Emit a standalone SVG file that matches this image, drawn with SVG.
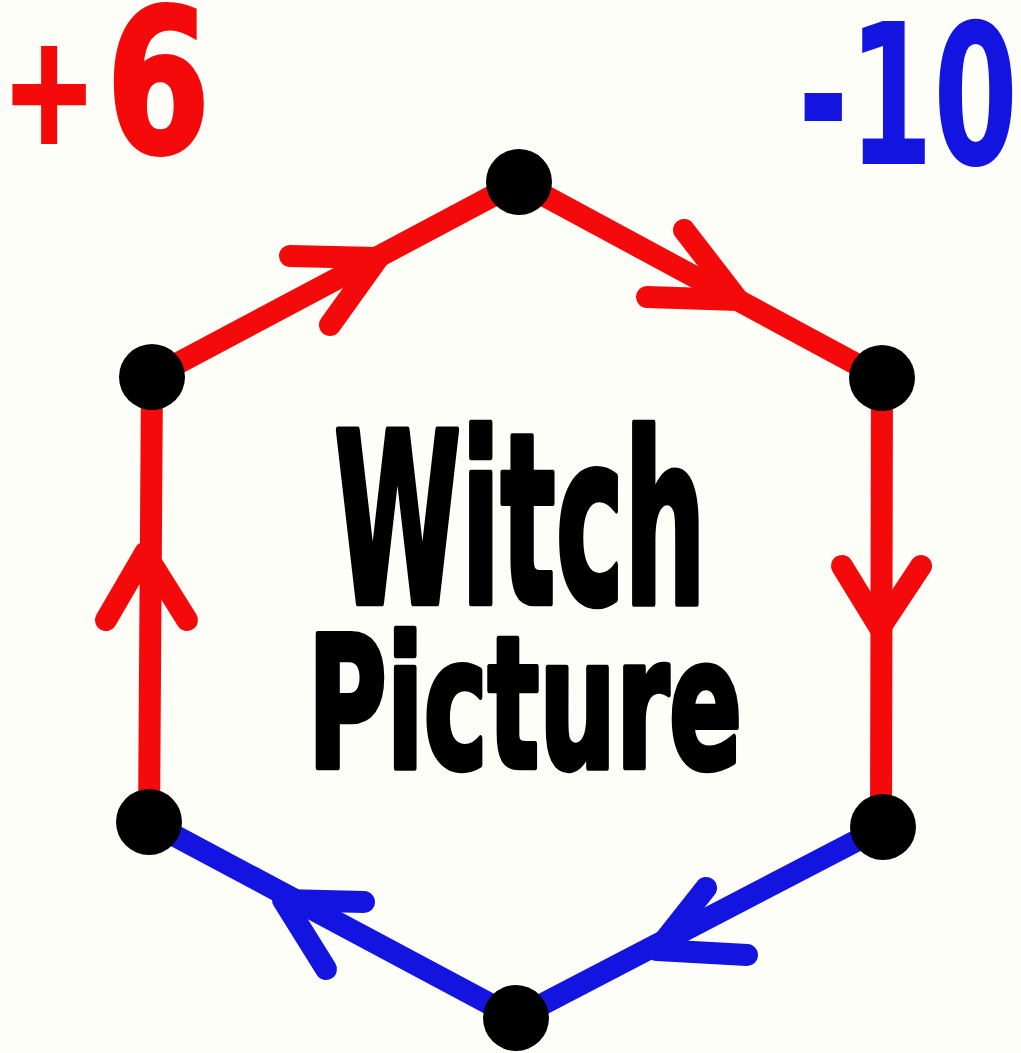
<svg xmlns="http://www.w3.org/2000/svg" width="1021" height="1053" viewBox="0 0 1021 1053">
  <style>
    .red { stroke: #f40a0a; stroke-width: 22; fill: none; stroke-linecap: round; stroke-linejoin: round; }
    .blue { stroke: #1414e0; stroke-width: 22; fill: none; stroke-linecap: round; stroke-linejoin: round; }
    .node { fill: #000000; }
    .title { font-family: "DejaVu Sans", "Liberation Sans", sans-serif; font-weight: bold; fill: #000000; stroke: #000000; stroke-width: 5; stroke-linejoin: round; text-anchor: middle; }
    .num { font-family: "DejaVu Sans", "Liberation Sans", sans-serif; font-weight: bold; }
  </style>
  <rect width="1021" height="1053" fill="#fefef9"/>
  <g id="connectors">
    <line class="red" x1="152" y1="377" x2="519" y2="182"/>
    <polyline class="red" points="290,256 378,258 330,325"/>
    <line class="red" x1="519" y1="182" x2="882" y2="378"/>
    <polyline class="red" points="684,230 738,300 647,297"/>
    <line class="red" x1="882" y1="378" x2="881" y2="827"/>
    <polyline class="red" points="842,566 880,628 921,566"/>
    <line class="red" x1="149" y1="822" x2="152" y2="377"/>
    <polyline class="red" points="106,620 145,553 187,620"/>
    <line class="blue" x1="883" y1="827" x2="516" y2="1018"/>
    <polyline class="blue" points="706,888 657,950 747,955"/>
    <line class="blue" x1="516" y1="1018" x2="149" y2="822"/>
    <polyline class="blue" points="364,902 283,900 326,969"/>
  </g>
  <g id="node-top"><circle class="node" cx="519" cy="182" r="33"/></g>
  <g id="node-upper-right"><circle class="node" cx="882" cy="378" r="33"/></g>
  <g id="node-lower-right"><circle class="node" cx="883" cy="827" r="33"/></g>
  <g id="node-bottom"><circle class="node" cx="516" cy="1018" r="33"/></g>
  <g id="node-lower-left"><circle class="node" cx="149" cy="822" r="33"/></g>
  <g id="node-upper-left"><circle class="node" cx="152" cy="377" r="33"/></g>
  <g id="labels">
    <text class="num" transform="translate(2,152) scale(0.75,1)" x="0" y="0" fill="#f40a0a" stroke="#f40a0a" stroke-width="4"><tspan font-size="150" dy="-10">+</tspan><tspan font-size="200" dx="13" dy="10">6</tspan></text>
    <text class="num" x="798" y="164" font-size="196" fill="#1414e0" textLength="220" lengthAdjust="spacingAndGlyphs">-10</text>
    <text class="title" transform="translate(520,603) scale(0.64,1.32)" x="0" y="0" font-size="180">Witch</text>
    <text class="title" transform="translate(525,767) scale(0.77,1.3)" x="0" y="0" font-size="140">Picture</text>
  </g>
</svg>
